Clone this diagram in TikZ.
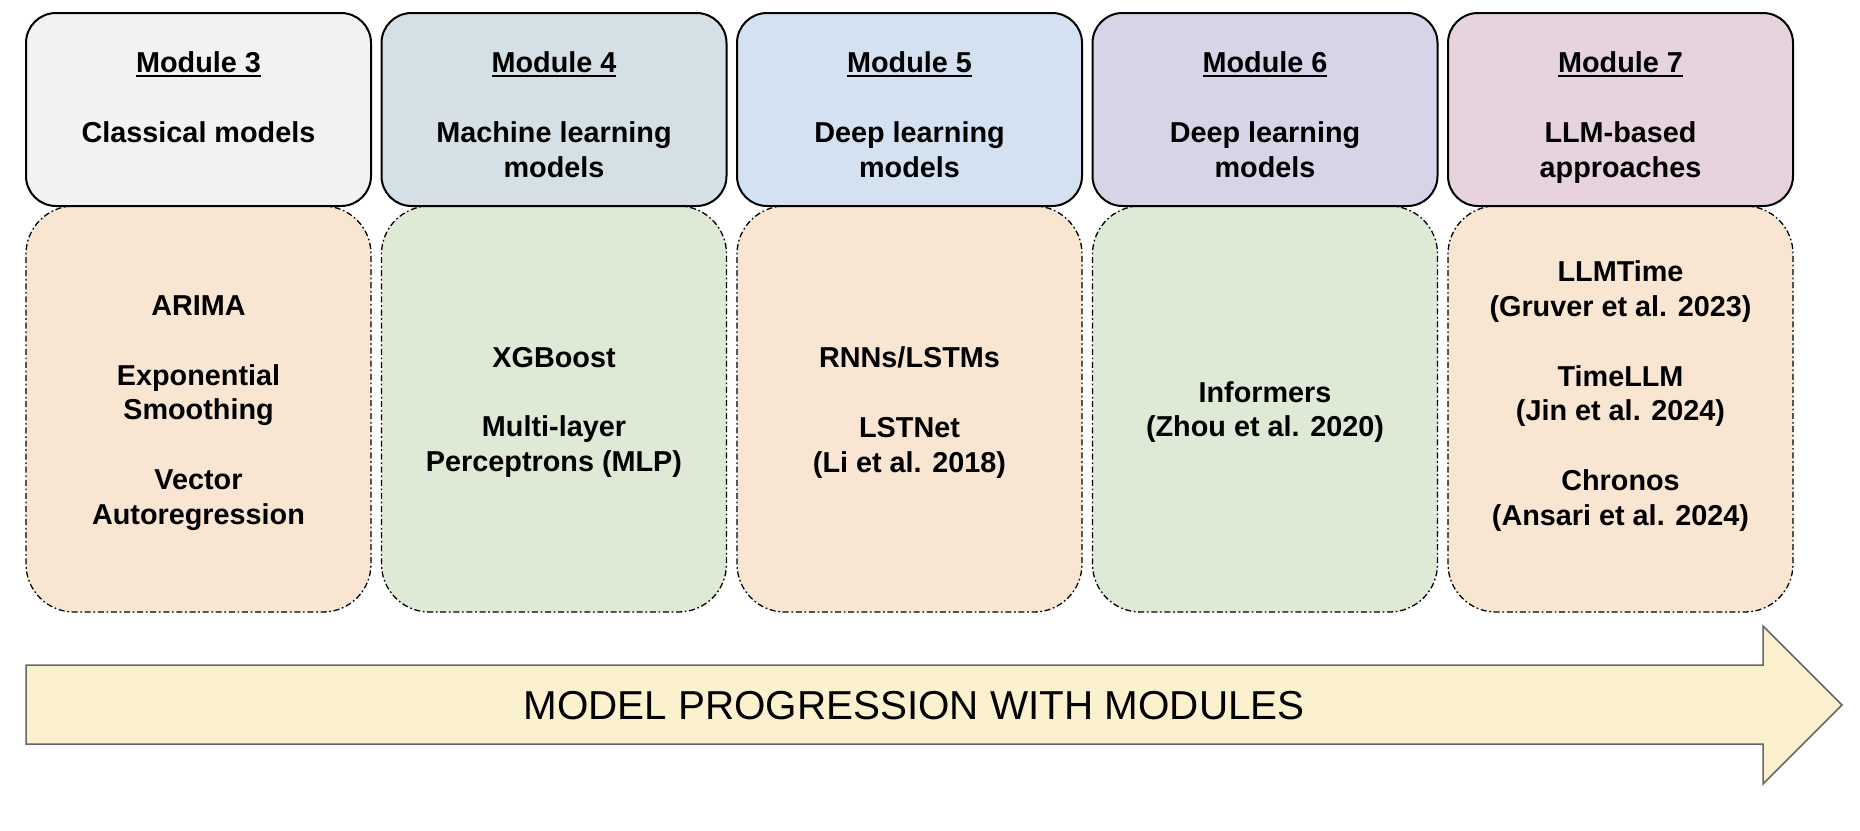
\documentclass[tikz,border=0pt]{standalone}
\usepackage{fontspec}
\setmainfont{Liberation Sans}
\usetikzlibrary{calc}
\definecolor{cTopA}{HTML}{F2F2F2}
\definecolor{cTopB}{HTML}{D5E0E6}
\definecolor{cTopC}{HTML}{D4E1F1}
\definecolor{cTopD}{HTML}{D8D3E7}
\definecolor{cTopE}{HTML}{E6D3DD}
\definecolor{cOrange}{HTML}{F9E6D2}
\definecolor{cGreen}{HTML}{DEE9D6}
\definecolor{cArrow}{HTML}{FCF1CF}
\definecolor{cArrowLine}{HTML}{666666}
\newcommand\modtitle[1]{{\setbox0\hbox{#1}\rlap{\rule[-4.5pt]{\wd0}{2pt}}\box0}}
\begin{document}
\begin{tikzpicture}[x=1pt,y=-1pt,
  topbox/.style={draw=black, line width=2pt, rounded corners=30pt,
    minimum width=345pt, minimum height=193pt, inner sep=0pt},
  botbox/.style={draw=black, line width=1.3pt,
    dash pattern=on 6pt off 2.7pt on 1.7pt off 2.7pt,
    rounded corners=48pt, minimum width=345pt, minimum height=406pt,
    inner sep=0pt},
  boldtext/.style={inner sep=0pt, align=center,
    font=\bfseries\fontsize{28.8}{34.8}\selectfont},
  arrowtext/.style={inner sep=0pt, font=\fontsize{40.4}{48}\selectfont}
]
\useasboundingbox (0,0) rectangle (1860,830);

% bottom (dash-dot) boxes
\node[botbox, fill=cOrange] (b3) at (198.5,409) {};
\node[botbox, fill=cGreen]  (b4) at (554,409) {};
\node[botbox, fill=cOrange] (b5) at (909.5,409) {};
\node[botbox, fill=cGreen]  (b6) at (1265,409) {};
\node[botbox, fill=cOrange] (b7) at (1620.5,409) {};

% top boxes
\node[topbox, fill=cTopA] (t3) at (198.5,109.5) {};
\node[topbox, fill=cTopB] (t4) at (554,109.5) {};
\node[topbox, fill=cTopC] (t5) at (909.5,109.5) {};
\node[topbox, fill=cTopD] (t6) at (1265,109.5) {};
\node[topbox, fill=cTopE] (t7) at (1620.5,109.5) {};

% module titles
\node[boldtext, anchor=base] (h3) at (198.5,72) {\modtitle{Module 3}};
\node[boldtext, anchor=base] (h4) at (554,72) {\modtitle{Module 4}};
\node[boldtext, anchor=base] (h5) at (909.5,72) {\modtitle{Module 5}};
\node[boldtext, anchor=base] (h6) at (1265,72) {\modtitle{Module 6}};
\node[boldtext, anchor=base] (h7) at (1620.5,72) {\modtitle{Module 7}};

% module descriptions
\node[boldtext, anchor=north] (d3) at (198.5,121.5) {Classical models};
\node[boldtext, anchor=north] (d4) at (554,121.5) {Machine learning\\models};
\node[boldtext, anchor=north] (d5) at (909.5,121.5) {Deep learning\\models};
\node[boldtext, anchor=north] (d6) at (1265,121.5) {Deep learning\\models};
\node[boldtext, anchor=north] (d7) at (1620.5,121.5) {LLM-based\\approaches};

% model lists
\node[boldtext] (m3) at ($(b3.center)+(0,4)$) {ARIMA\\[34.8pt]Exponential\\Smoothing\\[34.8pt]Vector\\Autoregression};
\node[boldtext] (m4) at ($(b4.center)+(0,3.5)$) {XGBoost\\[34.8pt]Multi-layer\\Perceptrons (MLP)};
\node[boldtext] (m5) at ($(b5.center)+(0,3.5)$) {RNNs/LSTMs\\[34.8pt]LSTNet\\(Li et al. 2018)};
\node[boldtext] (m6) at ($(b6.center)+(0,3)$) {Informers\\(Zhou et al. 2020)};
\node[boldtext] (m7) at ($(b7.center)+(0,-13)$) {LLMTime\\(Gruver et al. 2023)\\[34.8pt]TimeLLM\\(Jin et al. 2024)\\[34.8pt]Chronos\\(Ansari et al. 2024)};

% progression arrow
\draw[draw=cArrowLine, fill=cArrow, line width=1.5pt, line join=miter]
  (26,665) -- (1763,665) -- (1763,626) -- (1842,705) -- (1763,784)
  -- (1763,744) -- (26,744) -- cycle;
\node[arrowtext] (arr) at (914,706) {MODEL PROGRESSION WITH MODULES};
\end{tikzpicture}
\end{document}
